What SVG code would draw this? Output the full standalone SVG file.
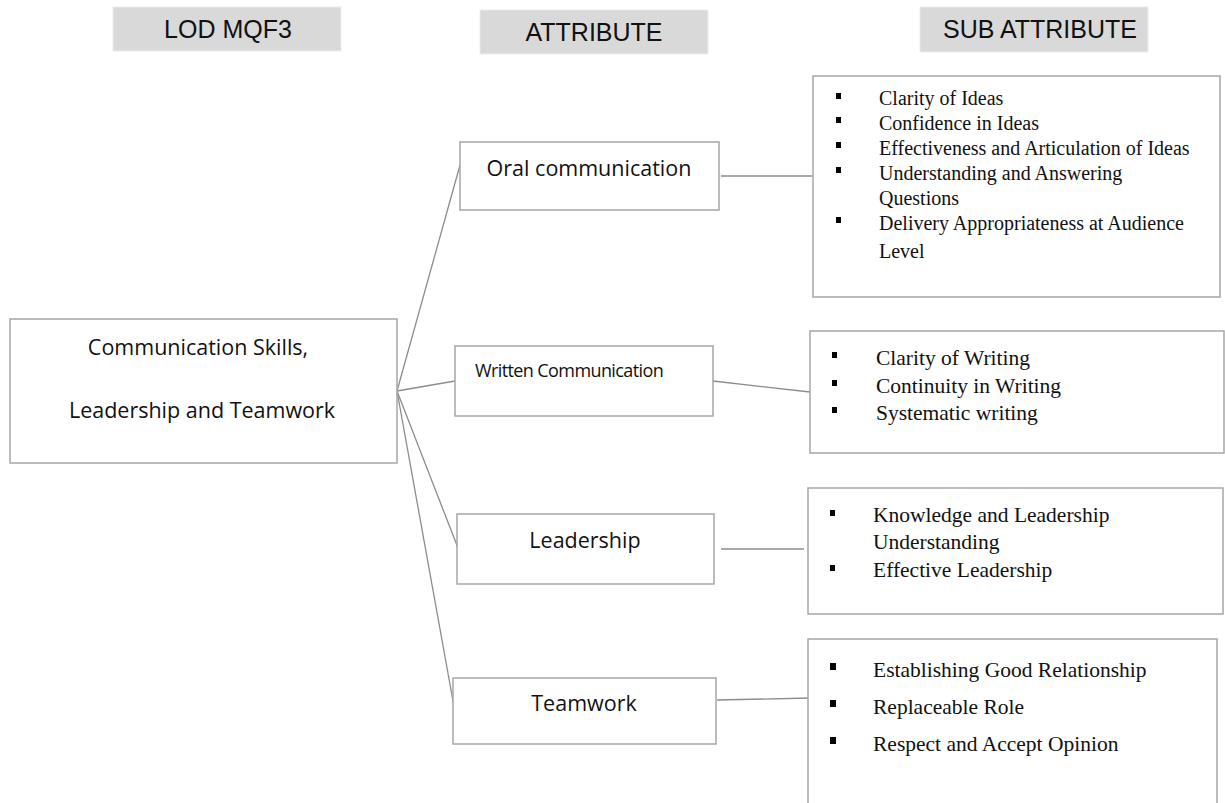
<svg xmlns="http://www.w3.org/2000/svg" width="1225" height="803" viewBox="0 0 1225 803">
<style>
.hdr{fill:#d9d9d9;stroke:#ececec;stroke-width:1}
.box{fill:#fff;stroke:#a6a6a6;stroke-width:1.5}
.ht{font-family:"Liberation Sans",Arial,sans-serif;font-size:25px;fill:#111;text-anchor:middle}
.st{font-family:"Open Sans","Liberation Sans",sans-serif;fill:#111}
.tt{font-family:"Liberation Serif","Times New Roman",serif;font-size:20px;fill:#111}
.t2{font-size:21.5px}
.con{stroke:#8c8c8c;stroke-width:1.3;fill:none}
.bl{fill:#000}
</style>
<rect width="1225" height="803" fill="#fff"/>
<g id="headers">
<g id="h-lod"><rect class="hdr" x="113" y="7" width="228" height="44"/><text class="ht" x="228" y="38" font-size="26">LOD MQF3</text></g>
<g id="h-attr"><rect class="hdr" x="480" y="10" width="228" height="44"/><text class="ht" x="594" y="41">ATTRIBUTE</text></g>
<g id="h-sub"><rect class="hdr" x="920" y="7" width="228" height="45"/><text class="ht" x="1040" y="38">SUB ATTRIBUTE</text></g>
</g>
<g id="connectors">
<line class="con" x1="397" y1="391" x2="462" y2="158"/>
<line class="con" x1="397" y1="391" x2="455" y2="381"/>
<line class="con" x1="397" y1="391" x2="458" y2="548"/>
<line class="con" x1="397" y1="391" x2="455" y2="712"/>
<line class="con" x1="721" y1="176" x2="812" y2="176"/>
<line class="con" x1="713" y1="381" x2="810" y2="392"/>
<line class="con" x1="721" y1="549" x2="804" y2="549"/>
<line class="con" x1="717" y1="700" x2="810" y2="698"/>
</g>
<g id="root"><rect class="box" x="10" y="319" width="387" height="144"/>
<text class="st" x="198" y="355" font-size="21.5" text-anchor="middle">Communication Skills,</text>
<text class="st" x="202" y="418" font-size="21.5" text-anchor="middle">Leadership and Teamwork</text></g>
<g id="oral"><rect class="box" x="460" y="142" width="259" height="68"/>
<text class="st" x="589" y="176" font-size="21.5" text-anchor="middle">Oral communication</text></g>
<g id="written"><rect class="box" x="455" y="346" width="258" height="70"/>
<text class="st" x="475" y="377" font-size="18" letter-spacing="-0.6">Written Communication</text></g>
<g id="leadership"><rect class="box" x="457" y="514" width="257" height="70"/>
<text class="st" x="585" y="548" font-size="21.5" text-anchor="middle">Leadership</text></g>
<g id="teamwork"><rect class="box" x="453" y="678" width="263" height="66"/>
<text class="st" x="584" y="711" font-size="21.5" text-anchor="middle">Teamwork</text></g>
<g id="sub-oral"><rect class="box" x="813" y="76" width="407" height="221"/>
<rect class="bl" x="836" y="93" width="5" height="6"/><text class="tt" x="879" y="105">Clarity of Ideas</text>
<rect class="bl" x="836" y="117" width="5" height="6"/><text class="tt" x="879" y="130">Confidence in Ideas</text>
<rect class="bl" x="836" y="142" width="5" height="6"/><text class="tt" x="879" y="155">Effectiveness and Articulation of Ideas</text>
<rect class="bl" x="836" y="167" width="5" height="6"/><text class="tt" x="879" y="180">Understanding and Answering</text>
<text class="tt" x="879" y="205">Questions</text>
<rect class="bl" x="836" y="217" width="5" height="6"/><text class="tt" x="879" y="230">Delivery Appropriateness at Audience</text>
<text class="tt" x="879" y="258">Level</text></g>
<g id="sub-written"><rect class="box" x="810" y="331" width="414" height="122"/>
<rect class="bl" x="832" y="352" width="5" height="6"/><text class="tt t2" x="876" y="365">Clarity of Writing</text>
<rect class="bl" x="832" y="380" width="5" height="6"/><text class="tt t2" x="876" y="393">Continuity in Writing</text>
<rect class="bl" x="832" y="407" width="5" height="6"/><text class="tt t2" x="876" y="420">Systematic writing</text></g>
<g id="sub-leadership"><rect class="box" x="808" y="488" width="415" height="126"/>
<rect class="bl" x="830" y="510" width="5" height="6"/><text class="tt t2" x="873" y="522">Knowledge and Leadership</text>
<text class="tt t2" x="873" y="549">Understanding</text>
<rect class="bl" x="830" y="565" width="5" height="6"/><text class="tt t2" x="873" y="577">Effective Leadership</text></g>
<g id="sub-teamwork"><rect class="box" x="808" y="639" width="409" height="170"/>
<rect class="bl" x="830" y="663" width="6" height="7"/><text class="tt t2" x="873" y="677">Establishing Good Relationship</text>
<rect class="bl" x="830" y="700" width="6" height="7"/><text class="tt t2" x="873" y="714">Replaceable Role</text>
<rect class="bl" x="830" y="737" width="6" height="7"/><text class="tt t2" x="873" y="751">Respect and Accept Opinion</text></g>
</svg>
